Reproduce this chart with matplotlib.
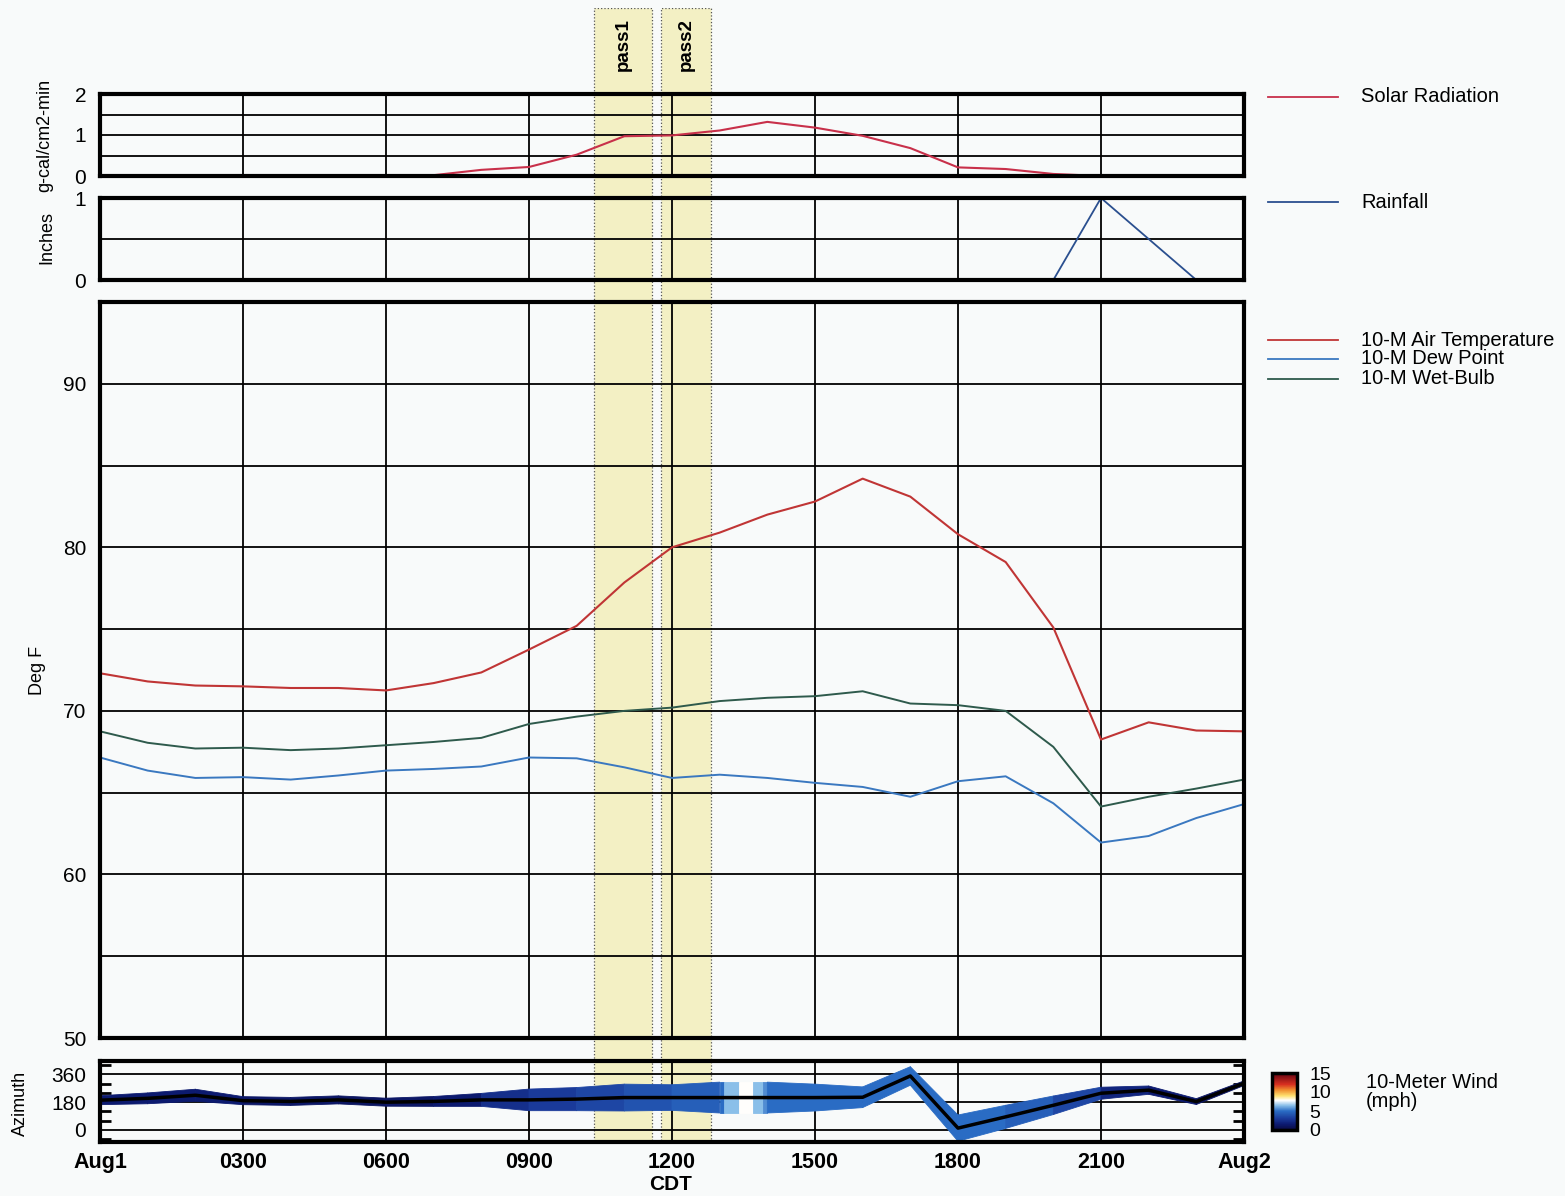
import numpy as np
import matplotlib
matplotlib.use("Agg")
import matplotlib.pyplot as plt
from matplotlib.colors import LinearSegmentedColormap, Normalize
from matplotlib.collections import PolyCollection
from matplotlib.lines import Line2D

plt.rcParams['font.family'] = ['Liberation Sans', 'DejaVu Sans']

W, H = 1565, 1196

# hourly data, Aug1 0000 .. Aug2 0000 (CDT)
hours = list(range(25))
solar = [0, 0, 0, 0, 0, 0, 0, 0.02, 0.15, 0.22, 0.52, 0.97, 0.99, 1.11, 1.32,
         1.18, 0.98, 0.68, 0.21, 0.17, 0.05, 0, 0, 0, 0]
rain = [0, 0, 0, 0, 0, 0, 0, 0, 0, 0, 0, 0, 0, 0, 0, 0, 0, 0, 0, 0, 0, 1, 0.5, 0, 0]
air_temp = [72.3, 71.8, 71.55, 71.5, 71.4, 71.4, 71.25, 71.7, 72.35, 73.75, 75.2,
            77.85, 80.0, 80.9, 82.0, 82.8, 84.2, 83.1, 80.8, 79.1, 75.1, 68.25,
            69.3, 68.8, 68.75]
dew_point = [67.15, 66.35, 65.9, 65.95, 65.8, 66.05, 66.35, 66.45, 66.6, 67.15,
             67.1, 66.55, 65.9, 66.1, 65.9, 65.6, 65.35, 64.75, 65.7, 66.0, 64.35,
             61.95, 62.35, 63.45, 64.3]
wet_bulb = [68.75, 68.05, 67.7, 67.75, 67.6, 67.7, 67.9, 68.1, 68.35, 69.2, 69.65,
            70.0, 70.2, 70.6, 70.8, 70.9, 71.2, 70.45, 70.35, 70.0, 67.8, 64.15,
            64.75, 65.25, 65.8]

wind_hours = [0, 1, 2, 3, 4, 5, 6, 7, 8, 9, 10, 11, 12, 13, 13.1, 13.4, 13.7, 13.9,
              14, 15, 16, 17, 18, 19, 20, 21, 22, 23, 24]
wind_dir = [193, 205, 225, 190, 185, 195, 180, 185, 195, 195, 200, 210, 210, 210,
            210, 210, 210, 210, 210, 210, 212, 350, 12, 85, 160, 238, 258, 184, 303]
wind_sigma = [29, 35, 39, 26, 26, 26, 26, 32, 42, 70, 75, 87, 83, 100, 100, 100,
              100, 100, 100, 87, 67, 60, 85, 75, 60, 39, 27, 19, 15]
wind_speed = [1.5, 1.5, 1.5, 1.2, 1.2, 1.0, 1.2, 1.5, 2.5, 3.0, 3.5, 4.0, 4.5, 5.0,
              6.5, 7.8, 6.5, 5.6, 5.0, 5.0, 5.0, 5.0, 5.0, 4.5, 3.5, 2.0, 1.5, 1.0, 0.5]

passes = [("pass1", 10.36, 11.58), ("pass2", 11.77, 12.82)]
tick_hours = [0, 3, 6, 9, 12, 15, 18, 21, 24]
tick_names = ["Aug1", "0300", "0600", "0900", "1200", "1500", "1800", "2100", "Aug2"]


def box(x0, y0, x1, y1):
    return [x0 / W, 1 - y1 / H, (x1 - x0) / W, (y1 - y0) / H]


def fx(x):
    return x / W


def fy(y):
    return 1 - y / H


fig = plt.figure(figsize=(W / 100, H / 100), dpi=100)
fig.patch.set_facecolor("#f8fafa")

# pass bands behind everything
bg = fig.add_axes(box(100, 8, 1244, 1142))
bg.set_zorder(0)
bg.set_xlim(0, 24)
bg.set_ylim(0, 1)
bg.axis("off")
for name, a, b in passes:
    bg.axvspan(a, b, facecolor="#f3f0c4", edgecolor="#555555", ls=":", lw=0.9)
    bg.text((a + b) / 2, 0.968, name, rotation=90, ha="center", va="center",
            fontsize=13.5, fontweight="bold")


def setup(ax, ylim, grid_y, labels_y):
    ax.set_zorder(1)
    ax.patch.set_alpha(0)
    ax.set_xlim(0, 24)
    ax.set_ylim(*ylim)
    for h in tick_hours[1:-1]:
        ax.axvline(h, color="black", lw=1.3, zorder=1)
    for v in grid_y:
        ax.axhline(v, color="black", lw=1.3, zorder=1)
    ax.set_yticks(labels_y)
    ax.set_xticks(tick_hours)
    ax.tick_params(axis="both", length=0, labelsize=15, pad=10)
    ax.tick_params(axis="x", labelbottom=False)
    for s in ax.spines.values():
        s.set_linewidth(3)
        s.set_zorder(5)


ax1 = fig.add_axes(box(100, 94, 1244, 176))
setup(ax1, (0, 2), [0.5, 1, 1.5], [0, 1, 2])
ax1.plot(hours, solar, color="#c8304a", lw=1.5, zorder=3)

ax2 = fig.add_axes(box(100, 198, 1244, 280))
setup(ax2, (0, 1), [0.5], [0, 1])
ax2.plot(hours, rain, color="#2a4f8f", lw=1.3, zorder=3)

ax3 = fig.add_axes(box(100, 302, 1244, 1038))
setup(ax3, (50, 95), [55, 60, 65, 70, 75, 80, 85, 90], [50, 60, 70, 80, 90])
ax3.plot(hours, air_temp, color="#c03535", lw=1.5, zorder=3)
ax3.plot(hours, dew_point, color="#3a78c0", lw=1.4, zorder=3)
ax3.plot(hours, wet_bulb, color="#2e5a4c", lw=1.4, zorder=3)

ax4 = fig.add_axes(box(100, 1061, 1244, 1142))
setup(ax4, (-78, 447), [0, 180, 360], [0, 180, 360])
ax4.tick_params(axis="x", labelbottom=True, pad=7)
ax4.set_xticklabels(tick_names, fontweight="bold", fontsize=15.5)
ax4.set_yticks(list(range(-60, 447, 60)), minor=True)
ax4.tick_params(axis="y", which="minor", direction="in", length=8, width=2,
                left=True, right=True)

cmap = LinearSegmentedColormap.from_list("wind", [
    (0.0, "#0a0a40"), (0.1, "#0c1a70"), (0.2, "#1a3a9a"), (0.333, "#2a6cc4"),
    (0.433, "#8cc0ea"), (0.52, "#ffffff"), (0.6, "#ffe070"), (0.7, "#f09030"),
    (0.8, "#d83020"), (1.0, "#600010")])
norm = Normalize(0, 15)
quads, cols = [], []
for i in range(len(wind_hours) - 1):
    t0, t1 = wind_hours[i], wind_hours[i + 1]
    d0, d1 = wind_dir[i], wind_dir[i + 1]
    s0, s1 = wind_sigma[i], wind_sigma[i + 1]
    quads.append([(t0, d0 - s0), (t1, d1 - s1), (t1, d1 + s1), (t0, d0 + s0)])
    cols.append(cmap(norm(wind_speed[i])))
pc = PolyCollection(quads, facecolors=cols, edgecolors=cols, linewidths=0.6, zorder=2)
ax4.add_collection(pc)
ax4.plot(wind_hours, wind_dir, color="black", lw=2.5, zorder=3)

# colorbar
cax = fig.add_axes(box(1272, 1073, 1297, 1130))
sm = plt.cm.ScalarMappable(norm=norm, cmap=cmap)
cb = fig.colorbar(sm, cax=cax, ticks=[0, 5, 10, 15])
cb.outline.set_linewidth(2.5)
cax.tick_params(length=0, labelsize=14, pad=9)

# axis labels
fig.text(fx(45), fy(135), "g-cal/cm2-min", rotation=90, ha="center", va="center", fontsize=13)
fig.text(fx(47), fy(238), "Inches", rotation=90, ha="center", va="center", fontsize=13)
fig.text(fx(37), fy(670), "Deg F", rotation=90, ha="center", va="center", fontsize=13)
fig.text(fx(20), fy(1103), "Azimuth", rotation=90, ha="center", va="center", fontsize=13)
fig.text(fx(671), fy(1185), "CDT", ha="center", va="center", fontsize=15, fontweight="bold")

# legends
legend_items = [(97, "Solar Radiation", "#c8304a"), (202, "Rainfall", "#2a4f8f"),
                (340, "10-M Air Temperature", "#c03535"),
                (359, "10-M Dew Point", "#3a78c0"),
                (379, "10-M Wet-Bulb", "#2e5a4c")]
for y, label, c in legend_items:
    fig.add_artist(Line2D([fx(1268), fx(1338)], [fy(y), fy(y)], color=c, lw=1.3,
                          transform=fig.transFigure))
    fig.text(fx(1361), fy(y), label, ha="left", va="center", fontsize=14.5)
fig.text(fx(1366), fy(1092), "10-Meter Wind\n(mph)", ha="left", va="center",
         fontsize=14.5, linespacing=1.0)

fig.savefig("out.png", dpi=100, facecolor=fig.get_facecolor())
